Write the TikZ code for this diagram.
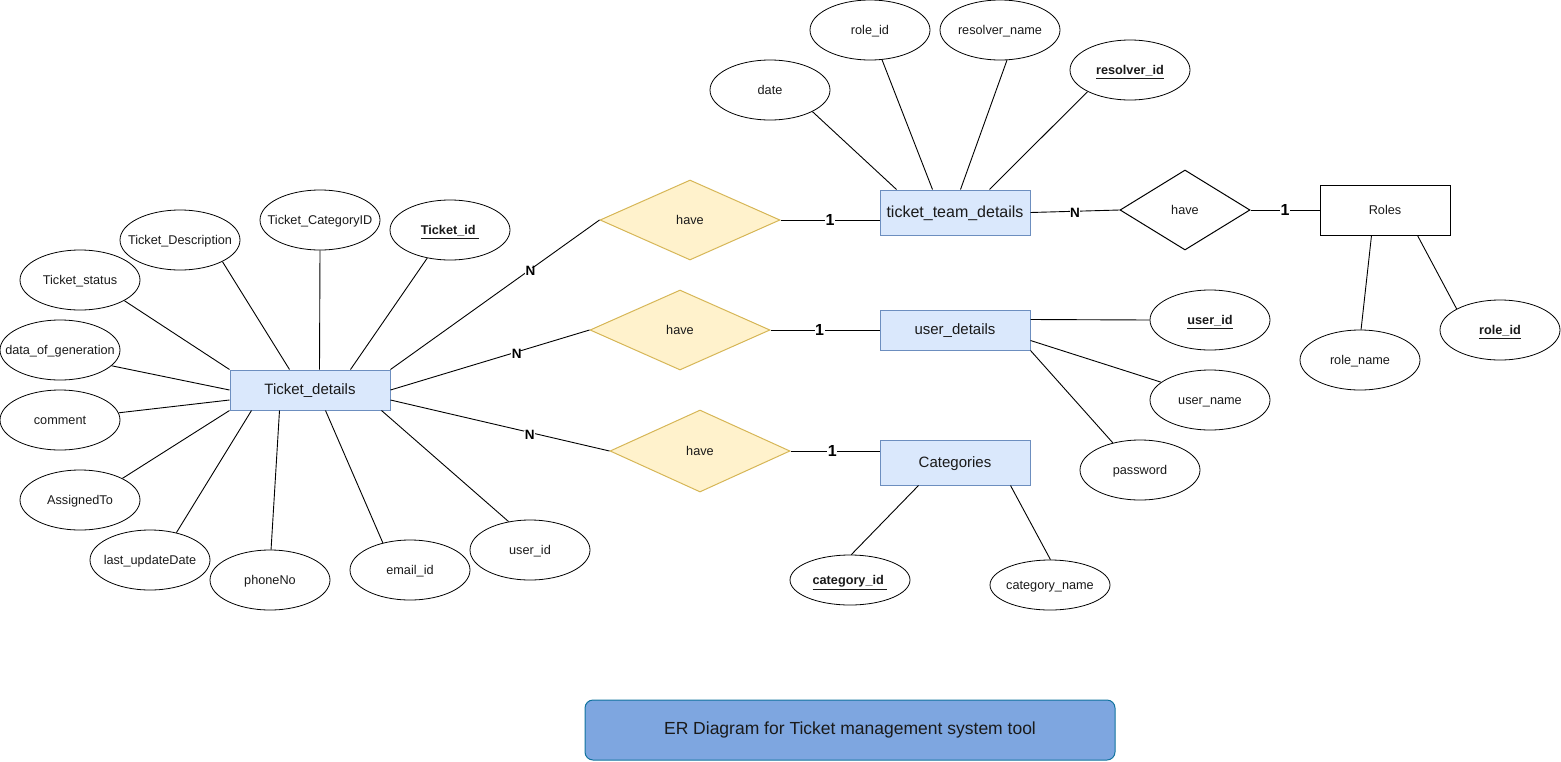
\documentclass[tikz,border=0pt]{standalone}
\usepackage{fontspec}
\setmainfont{Liberation Sans}
\usetikzlibrary{shapes.geometric}
\definecolor{entfill}{HTML}{DAE8FC}
\definecolor{entdraw}{HTML}{6C8EBF}
\definecolor{relfill}{HTML}{FFF2CC}
\definecolor{reldraw}{HTML}{D6B656}
\definecolor{titlefill}{HTML}{7EA6E0}
\definecolor{titledraw}{HTML}{10739E}
\definecolor{txt}{HTML}{1A1A1A}
\newcommand{\zw}[1]{\makebox[0pt][c]{#1}}
\newcommand{\keyattr}[1]{\underline{\textbf{#1}}}
\begin{document}
\begin{tikzpicture}[x=1pt,y=-1pt,
 lowtext/.style={text height=1.05em,text depth=0.1em},
 attr/.style={ellipse,draw,line width=0.8pt,minimum width=120pt,minimum height=60pt,inner sep=0pt,text=txt,lowtext,font=\fontsize{12.7}{15}\selectfont},
 ent/.style={rectangle,draw=entdraw,fill=entfill,line width=1pt,inner sep=0pt,text=txt,lowtext,font=\fontsize{15}{18}\selectfont},
 rel/.style={diamond,draw=reldraw,fill=relfill,line width=1pt,minimum width=180pt,minimum height=80pt,inner sep=0pt,text=txt,lowtext,font=\fontsize{12.7}{15}\selectfont},
 conn/.style={draw,line width=0.9pt},
 card/.style={fill=white,inner sep=0.6pt,text height=0.72em,text depth=0pt,yshift=-1.5pt,font=\bfseries\fontsize{16}{18}\selectfont},
 cardn/.style={fill=white,inner sep=0.6pt,text height=0.72em,text depth=0pt,yshift=-3pt,font=\bfseries\fontsize{13.5}{16}\selectfont}]
\useasboundingbox (0,0) rectangle (1561,761);

% entities
\node[ent,minimum width=160pt,minimum height=40pt] (td) at (310,390) {Ticket\_details};
\node[ent,minimum width=150pt,minimum height=45pt,font=\fontsize{16}{19}\selectfont] (ttd) at (955,212.5) {ticket\_team\_details};
\node[ent,minimum width=150pt,minimum height=40pt] (ud) at (955,330) {user\_details};
\node[ent,minimum width=150pt,minimum height=45pt] (cat) at (955,462.5) {Categories};
\node[rectangle,draw,fill=white,line width=1pt,minimum width=130pt,minimum height=50pt,inner sep=0pt,text=txt,lowtext,font=\fontsize{12.7}{15}\selectfont] (roles) at (1385,210) {Roles};

% relationships
\node[rel] (h1) at (690,220) {have};
\node[rel] (h2) at (680,330) {have};
\node[rel,minimum height=82pt] (h3) at (700,451) {have};
\node[rel,draw=black,fill=white,minimum width=130pt] (h4) at (1185,210) {have};

% Ticket_details attributes
\node[attr] (tstat) at (80,280) {\zw{Ticket\_status}};
\node[attr] (tdesc) at (180,240) {\zw{Ticket\_Description}};
\node[attr] (tcat) at (320,220) {\zw{Ticket\_CategoryID}};
\node[attr] (tid) at (450,230) {\zw{\keyattr{Ticket\_id\ }}};
\node[attr] (tgen) at (60,350) {\zw{data\_of\_generation}};
\node[attr] (tcom) at (60,420) {\zw{comment}};
\node[attr] (tass) at (80,500) {\zw{AssignedTo}};
\node[attr] (tlast) at (150,560) {\zw{last\_updateDate}};
\node[attr] (tphone) at (270,580) {\zw{phoneNo}};
\node[attr] (temail) at (410,570) {\zw{email\_id}};
\node[attr] (tuser) at (530,550) {\zw{user\_id}};

% ticket_team_details attributes
\node[attr] (date) at (770,90) {\zw{date}};
\node[attr] (rid) at (870,30) {\zw{role\_id}};
\node[attr] (rname) at (1000,30) {\zw{resolver\_name}};
\node[attr] (resid) at (1130,70) {\zw{\keyattr{resolver\_id}}};

% user_details attributes
\node[attr] (uid) at (1210,320) {\zw{\keyattr{user\_id}}};
\node[attr] (uname) at (1210,400) {\zw{user\_name}};
\node[attr] (pwd) at (1140,470) {\zw{password}};

% Categories attributes
\node[attr,minimum height=50pt] (cid) at (850,580) {\zw{\keyattr{category\_id\ }}};
\node[attr,minimum height=50pt] (cname) at (1050,585) {\zw{category\_name}};

% Roles attributes
\node[attr] (rolename) at (1360,360) {\zw{role\_name}};
\node[attr] (roleid) at (1500,330) {\zw{\keyattr{role\_id}}};

% title
\node[draw=titledraw,fill=titlefill,line width=1pt,rounded corners=8pt,minimum width=530pt,minimum height=60pt,text=txt,lowtext,font=\fontsize{17.5}{20}\selectfont] (title) at (850,730) {ER Diagram for Ticket management system tool};

% Ticket_details attribute connectors
\draw[conn] (td.north west) -- (tstat.-25);
\draw[conn] ([xshift=60pt]td.north west) -- (tdesc.-27);
\draw[conn] ([xshift=90pt]td.north west) -- (tcat.-90);
\draw[conn] ([xshift=121pt]td.north west) -- (tid.-129);
\draw[conn] (td.west) -- (tgen.-17);
\draw[conn] ([yshift=-10pt]td.west) -- (tcom.7);
\draw[conn] (td.south west) -- (tass.27);
\draw[conn] ([xshift=22pt]td.south west) -- (tlast.46);
\draw[conn] ([xshift=50pt]td.south west) -- (tphone.88);
\draw[conn] ([xshift=96pt]td.south west) -- (temail.135);
\draw[conn] ([xshift=152pt]td.south west) -- (tuser.127);

% ticket_team_details attribute connectors
\draw[conn] ([xshift=17pt]ttd.north west) -- (date.-27);
\draw[conn] ([xshift=53pt]ttd.north west) -- (rid.-68);
\draw[conn] ([xshift=81pt]ttd.north west) -- (rname.-77);
\draw[conn] ([xshift=110pt]ttd.north west) -- (resid.-153);

% user_details attribute connectors
\draw[conn] ([yshift=-10pt]ud.north east) -- (uid.west);
\draw[conn] ([yshift=10pt]ud.south east) -- (uname.160);
\draw[conn] (ud.south east) -- (pwd.135);

% Categories attribute connectors
\draw[conn] ([xshift=39pt]cat.south west) -- (cid.87);
\draw[conn] ([xshift=131pt]cat.south west) -- (cname.89);

% Roles attribute connectors
\draw[conn] ([xshift=52pt]roles.south west) -- (rolename.88);
\draw[conn] ([xshift=98pt]roles.south west) -- (roleid.154);

% relationship connectors
\draw[conn] (td.north east) -- (h1.west) node[cardn,pos=0.67] {N};
\draw[conn] (td.east) -- (h2.west) node[cardn,pos=0.635] {N};
\draw[conn] ([yshift=-10pt]td.east) -- (h3.west) node[cardn,pos=0.636] {N};
\draw[conn] (h1.east) -- (h1.east -| ttd.west) node[card,pos=0.5] {1};
\draw[conn] (h2.east) -- (h2.east -| ud.west) node[card,pos=0.45] {1};
\draw[conn] (h3.east) -- (h3.east -| cat.west) node[card,pos=0.47] {1};
\draw[conn] (ttd.east) -- (h4.west) node[cardn,pos=0.5] {N};
\draw[conn] (h4.east) -- (roles.west) node[card,pos=0.5] {1};
\end{tikzpicture}
\end{document}
